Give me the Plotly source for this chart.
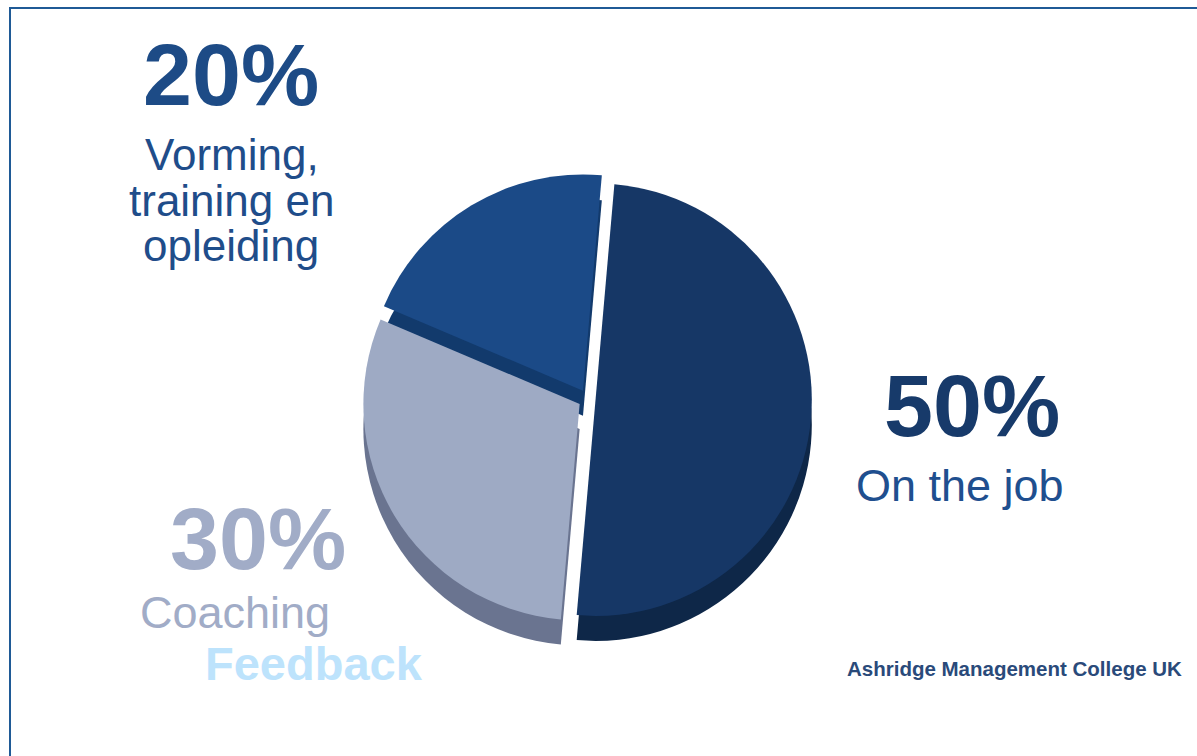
import plotly.graph_objects as go

# ---- data ----
categories = ["On the job", "Coaching", "Vorming, training en opleiding"]
values = [50, 30, 20]
top_colors = ["#163766", "#9eaac4", "#1b4a87"]
side_colors = ["#0e2748", "#6a7490", "#123a6c"]
pulls = [0.035, 0.045, 0.045]

W, H = 1197, 756

def px(x):
    return x / W

def py(y):
    return 1 - y / H

cx, cy, half = 588, 399, 226
depth = 25

fig = go.Figure()

# side (depth) layer
fig.add_trace(go.Pie(
    labels=categories, values=values, sort=False, direction="clockwise",
    rotation=5, pull=pulls, textinfo="none", hoverinfo="skip",
    marker=dict(colors=side_colors, line=dict(width=0)),
    domain=dict(x=[px(cx - half), px(cx + half)],
                y=[py(cy + depth + half), py(cy + depth - half)]),
    showlegend=False,
))
# top face
fig.add_trace(go.Pie(
    labels=categories, values=values, sort=False, direction="clockwise",
    rotation=5, pull=pulls, textinfo="none", hoverinfo="skip",
    marker=dict(colors=top_colors, line=dict(width=0)),
    domain=dict(x=[px(cx - half), px(cx + half)],
                y=[py(cy + half), py(cy - half)]),
    showlegend=False,
))

FONT = "Liberation Sans, Arial, sans-serif"

def ann(text, x, y, size, color, bold=False):
    t = f"<b>{text}</b>" if bold else text
    fig.add_annotation(text=t, x=px(x), y=py(y), xref="paper", yref="paper",
                       showarrow=False, xanchor="center", yanchor="middle",
                       font=dict(family=FONT, size=size, color=color))

ann(f"{values[2]}%", 231, 75, 88, "#1d4b86", bold=True)
ann("Vorming,", 232, 154, 44, "#1f4d8a")
ann("training en", 231, 200, 44, "#1f4d8a")
ann("opleiding", 231, 246, 44, "#1f4d8a")

ann(f"{values[0]}%", 972, 405, 88, "#173a6a", bold=True)
ann(categories[0], 960, 485, 45, "#1f4f8f")

ann(f"{values[1]}%", 258, 538, 88, "#a1acc7", bold=True)
ann(categories[1], 235, 612, 45, "#a1acc7")

ann("Feedback", 314, 663, 47, "#bde3fc", bold=True)

fig.add_annotation(text="<b>Ashridge Management College UK</b>", x=px(845), y=py(668),
                   xref="paper", yref="paper", showarrow=False,
                   xanchor="left", yanchor="middle",
                   font=dict(family=FONT, size=20.5, color="#2a4a7a"))

fig.update_layout(
    width=W, height=H,
    margin=dict(l=0, r=0, t=0, b=0),
    paper_bgcolor="white", plot_bgcolor="white",
    shapes=[dict(type="rect", xref="paper", yref="paper",
                 x0=px(10), x1=px(1210), y0=py(770), y1=py(8),
                 line=dict(color="#1f5a96", width=2), fillcolor="rgba(0,0,0,0)")],
)

fig.write_html("out.html")
